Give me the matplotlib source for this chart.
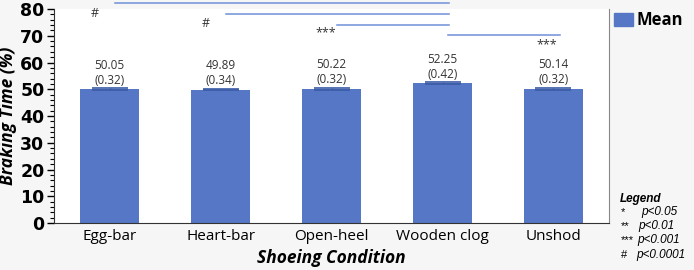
import matplotlib.pyplot as plt
from matplotlib.ticker import MultipleLocator

# Data
conditions = ['Egg-bar', 'Heart-bar', 'Open-heel', 'Wooden clog', 'Unshod']
means = [50.05, 49.89, 50.22, 52.25, 50.14]
sems = [0.32, 0.34, 0.32, 0.42, 0.32]

# significance brackets: (start bar, end bar, height, symbol, symbol x, symbol y)
brackets = [(0, 3, 82.1, '#', -0.13, 78.2),
            (1, 3, 78.1, '#', 0.87, 74.6),
            (2, 3, 74.0, '***', 1.95, 71.0),
            (3, 4, 70.4, '***', 3.94, 66.5)]

bar_color = '#5577c6'
cap_color = '#3b5ba6'
line_color = '#6f8fd8'

plt.rcParams['font.family'] = ['Open Sans', 'DejaVu Sans']

fig = plt.figure(figsize=(6.94, 2.70), dpi=100)
fig.patch.set_facecolor('#f6f6f6')
ax = fig.add_axes([0.078, 0.174, 0.7995, 0.7926])
ax.set_facecolor('white')

x = list(range(len(conditions)))
ax.bar(x, means, width=0.53, color=bar_color, zorder=2)
ax.errorbar(x, means, yerr=sems, fmt='none', ecolor=cap_color,
            elinewidth=1.0, capsize=13, capthick=1.2, zorder=3)

# value labels
for xi, m, s in zip(x, means, sems):
    ax.text(xi, m + 9.0, f'{m:.2f}', ha='center', va='center', fontsize=8.5, color='#333333')
    ax.text(xi, m + 3.4, f'({s:.2f})', ha='center', va='center', fontsize=8.5, color='#333333')

# significance lines
for a, b, h, sym, sx, sy in brackets:
    ax.plot([a + 0.05, b + 0.06], [h, h], color=line_color, lw=1.1, clip_on=False, zorder=4)
    ax.text(sx, sy, sym, ha='center', va='center', fontsize=9, color='#333333')

ax.set_xlim(-0.5, 4.5)
ax.set_ylim(0, 80)
ax.yaxis.set_major_locator(MultipleLocator(10))
ax.yaxis.set_minor_locator(MultipleLocator(2))
ax.tick_params(axis='y', which='major', length=5, width=1, labelsize=12.5, pad=2)
ax.tick_params(axis='y', which='minor', length=3, width=0.8)
ax.tick_params(axis='x', length=0, labelsize=11, pad=4)
for lab in ax.get_yticklabels():
    lab.set_fontweight('bold')
    lab.set_family('DejaVu Sans')
ax.set_xticks(x)
ax.set_xticklabels(conditions)

ax.spines['top'].set_visible(False)
ax.spines['right'].set_color('#888888')
ax.spines['left'].set_color('#333333')
ax.spines['bottom'].set_color('#333333')

ax.set_ylabel('Braking Time (%)', fontsize=12.5, fontweight='bold', style='italic', labelpad=2)
ax.set_xlabel('Shoeing Condition', fontsize=12.5, fontweight='bold', style='italic', labelpad=4)

# legend for the bars
fig.patches.append(plt.Rectangle((614 / 694, 1 - 26 / 270), 19 / 694, 13 / 270,
                                 transform=fig.transFigure, color=bar_color))
fig.text(636 / 694, 1 - 20 / 270, 'Mean', fontsize=12, fontweight='bold', va='center')

# significance legend
fig.text(620 / 694, 1 - 199 / 270, 'Legend', family='Liberation Sans', fontsize=8.5,
         fontweight='bold', style='italic', va='center')
sig_rows = [('*', 'p<0.05', 212, 641), ('**', 'p<0.01', 226, 638),
            ('***', 'p<0.001', 240, 637), ('#', 'p<0.0001', 255, 636)]
for sym, txt, py, tx in sig_rows:
    fig.text(621 / 694, 1 - py / 270, sym, family='Liberation Sans', fontsize=8, va='center')
    fig.text(tx / 694, 1 - py / 270, txt, family='Liberation Sans',
             fontsize=8.5, style='italic', va='center')

fig.savefig('out.png', dpi=100, facecolor=fig.get_facecolor())
